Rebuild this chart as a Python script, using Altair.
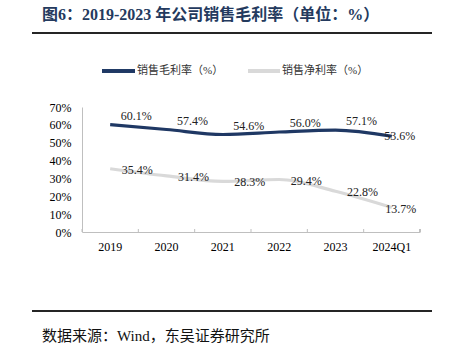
import altair as alt
import pandas as pd

categories = ["2019", "2020", "2021", "2022", "2023", "2024Q1"]
series_names = ["销售毛利率（%）", "销售净利率（%）"]
gross_margin = [60.1, 57.4, 54.6, 56.0, 57.1, 53.6]
net_margin = [35.4, 31.4, 28.3, 29.4, 22.8, 13.7]
y_ticks = [0, 10, 20, 30, 40, 50, 60, 70]
title_text = "图6：2019-2023 年公司销售毛利率（单位：%）"
source_text = "数据来源：Wind，东吴证券研究所"

DARK = "#1f3864"
LIGHT = "#d9d9d9"
W, H = 338, 125
SERIF = "Liberation Serif"
MIX = "Liberation Serif, Noto Sans CJK SC"

rows = []
for c, g, n in zip(categories, gross_margin, net_margin):
    rows.append({"cat": c, "series": series_names[0], "value": g, "label": f"{g:.1f}%"})
    rows.append({"cat": c, "series": series_names[1], "value": n, "label": f"{n:.1f}%"})
df = pd.DataFrame(rows)
cat_df = pd.DataFrame({"cat": categories})
legend_df = pd.DataFrame({"series": series_names})

xscale = alt.Scale(type="band", domain=categories, paddingInner=0, paddingOuter=0)
x_axis = alt.Axis(title=None, labelAngle=0, ticks=False, domainColor="#bfbfbf",
                  labelFont=SERIF, labelFontSize=12, labelColor="#000",
                  labelPadding=9, labelOverlap=False)
x_enc = alt.X("cat:N", sort=categories, scale=xscale, bandPosition=0.5, axis=x_axis)
y_enc = alt.Y("value:Q", scale=alt.Scale(domain=[0, 70]),
              axis=alt.Axis(title=None, values=y_ticks, labelExpr="datum.value + '%'",
                            ticks=False, grid=False, domainColor="#bfbfbf",
                            labelFont=SERIF, labelFontSize=12, labelColor="#000",
                            labelPadding=11, labelOverlap=False, labelFlush=False))
color_enc = alt.Color("series:N", scale=alt.Scale(domain=series_names, range=[DARK, LIGHT]),
                      legend=None)

base = alt.Chart(df)
lines = base.mark_line(interpolate="monotone", strokeWidth=3.2).encode(
    x=x_enc, y=y_enc, color=color_enc, order=alt.Order("series:N"))

def labels(series, last, dx, dy):
    cond = "datum.cat == '2024Q1'" if last else "datum.cat != '2024Q1'"
    return base.transform_filter(alt.datum.series == series).transform_filter(cond).mark_text(
        dx=dx, dy=dy, font=SERIF, fontSize=12, color="#222", align="center", baseline="middle"
    ).encode(x=x_enc, y=y_enc, text="label:N")

lbl = [
    labels(series_names[0], False, 26, -9),
    labels(series_names[0], True, 8, 0),
    labels(series_names[1], False, 27, 1),
    labels(series_names[1], True, 9, 1),
]

ticks = alt.Chart(cat_df).mark_rule(color="#bfbfbf", strokeWidth=1).encode(
    x=alt.X("cat:N", sort=categories, scale=xscale, bandPosition=0, axis=x_axis),
    y=alt.value(H - 3), y2=alt.value(H))
end_tick = alt.Chart(cat_df).mark_rule(color="#bfbfbf", strokeWidth=1).encode(
    x=alt.value(W), y=alt.value(H - 3), y2=alt.value(H))

# decorations
title = alt.Chart(pd.DataFrame({"t": [title_text]})).mark_text(
    align="left", baseline="middle", font=MIX, fontSize=16, fontWeight="bold", color="#243a5e"
).encode(x=alt.value(-40), y=alt.value(-92), text="t:N")
top_rule = alt.Chart(cat_df).mark_rule(color="#222", strokeWidth=1.2).encode(
    x=alt.value(-50), x2=alt.value(350), y=alt.value(-74))
bottom_rule = alt.Chart(cat_df).mark_rule(color="#222", strokeWidth=1.2).encode(
    x=alt.value(-50), x2=alt.value(350), y=alt.value(204))
source = alt.Chart(pd.DataFrame({"t": [source_text]})).mark_text(
    align="left", baseline="middle", font=MIX, fontSize=15, color="#111"
).encode(x=alt.value(-40), y=alt.value(229), text="t:N")

leg_line1 = alt.Chart(cat_df).mark_rule(color=DARK, strokeWidth=3.2).encode(
    x=alt.value(20), x2=alt.value(53), y=alt.value(-36))
leg_line2 = alt.Chart(cat_df).mark_rule(color=LIGHT, strokeWidth=3.2).encode(
    x=alt.value(166), x2=alt.value(198), y=alt.value(-36))
leg_text1 = alt.Chart(legend_df).transform_filter(alt.datum.series == series_names[0]).mark_text(
    align="left", baseline="middle", font=MIX, fontSize=11, color="#333"
).encode(x=alt.value(55), y=alt.value(-36), text="series:N")
leg_text2 = alt.Chart(legend_df).transform_filter(alt.datum.series == series_names[1]).mark_text(
    align="left", baseline="middle", font=MIX, fontSize=11, color="#333"
).encode(x=alt.value(200), y=alt.value(-36), text="series:N")

chart = alt.layer(
    lines, ticks, end_tick, *lbl, title, top_rule, bottom_rule, source,
    leg_line1, leg_line2, leg_text1, leg_text2
).properties(
    width=W, height=H,
    autosize=alt.AutoSizeParams(type="none"),
    padding={"left": 82, "top": 107, "right": 32, "bottom": 120},
    background="white",
).configure_view(stroke=None)

chart.save("out.html", embed_options={"renderer": "svg", "actions": False})
